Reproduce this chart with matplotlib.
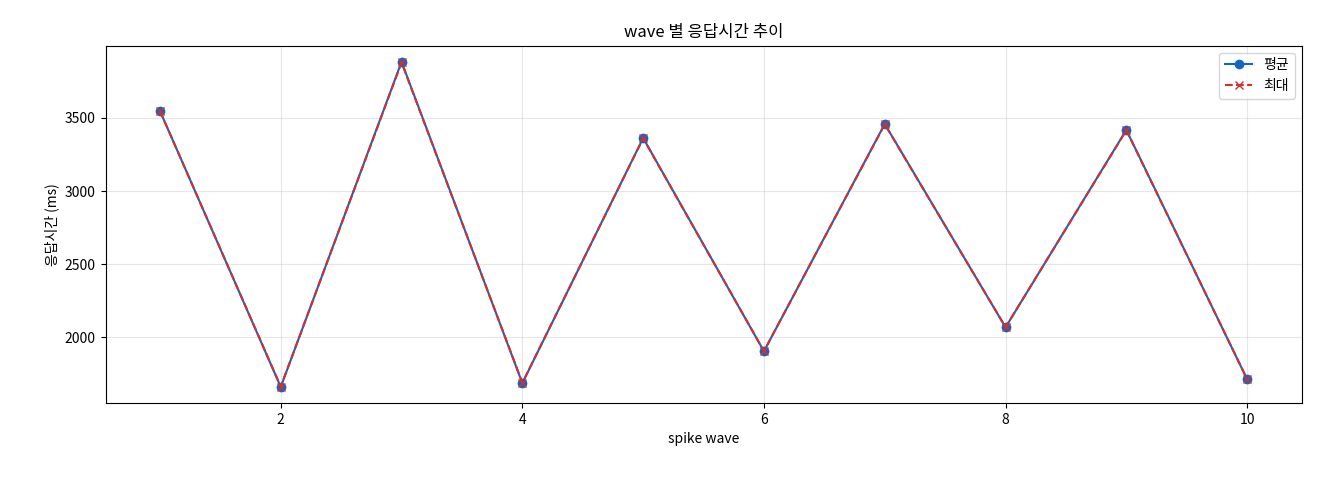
import matplotlib
matplotlib.use("Agg")
import matplotlib.pyplot as plt

plt.rcParams['font.family'] = ['Noto Sans CJK KR', 'DejaVu Sans']

waves = [1, 2, 3, 4, 5, 6, 7, 8, 9, 10]
avg_ms = [3548, 1660, 3884, 1686, 3363, 1904, 3459, 2068, 3418, 1712]
max_ms = [3548, 1662, 3880, 1688, 3361, 1905, 3457, 2069, 3416, 1713]

fig, ax = plt.subplots(figsize=(13.2, 4.8), dpi=100)
ax.plot(waves, avg_ms, marker='o', color='#1565c0', label='평균')
ax.plot(waves, max_ms, marker='x', linestyle='--', color='#d32f2f', label='최대')
ax.set_title('wave 별 응답시간 추이')
ax.set_xlabel('spike wave')
ax.set_ylabel('응답시간 (ms)')
ax.grid(True, alpha=0.3)
ax.legend(loc='upper right')
fig.subplots_adjust(left=0.08, right=0.986, top=0.905, bottom=0.16)
fig.savefig('out.png')
